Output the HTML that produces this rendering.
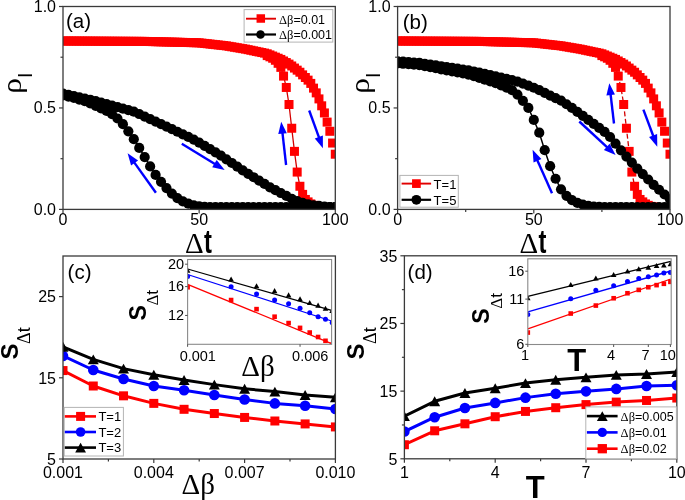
<!DOCTYPE html>
<html><head><meta charset="utf-8"><style>html,body{margin:0;padding:0;background:#fff;overflow:hidden;width:685px;height:500px}svg{display:block;will-change:transform;filter:blur(0.3px)}</style></head>
<body>
<svg width="685" height="500" viewBox="0 0 685 500">
<rect width="685" height="500" fill="#fff"/>
<defs></defs>
<clipPath id="ca"><rect x="63" y="6.5" width="272.3" height="202.9"/></clipPath>
<line x1="59" y1="209.4" x2="63" y2="209.4" stroke="#3a3a3a" stroke-width="1.2"/>
<line x1="59" y1="107.95" x2="63" y2="107.95" stroke="#3a3a3a" stroke-width="1.2"/>
<line x1="59" y1="6.5" x2="63" y2="6.5" stroke="#3a3a3a" stroke-width="1.2"/>
<line x1="60.5" y1="158.68" x2="63" y2="158.68" stroke="#3a3a3a" stroke-width="1.2"/>
<line x1="60.5" y1="57.22" x2="63" y2="57.22" stroke="#3a3a3a" stroke-width="1.2"/>
<line x1="63" y1="209.4" x2="63" y2="213.4" stroke="#3a3a3a" stroke-width="1.2"/>
<line x1="199.15" y1="209.4" x2="199.15" y2="213.4" stroke="#3a3a3a" stroke-width="1.2"/>
<line x1="335.3" y1="209.4" x2="335.3" y2="213.4" stroke="#3a3a3a" stroke-width="1.2"/>
<g clip-path="url(#ca)">
<polyline points="280.84,67.37 283.56,76.09 286.29,87.46 289.01,104.5 291.73,128.24 294.46,151.37 297.18,172.07 299.9,186.27 302.62,194.39 305.35,199.46 308.07,201.89 310.79,203.92 313.52,205.34 316.24,206.36 318.96,206.97 321.69,207.37 324.41,207.78 327.13,207.78 329.85,207.78 332.58,207.78 335.3,207.78" fill="none" stroke="#d40000" stroke-width="1.3" stroke-linejoin="round"/>
<rect x="58.5" y="36.49" width="9" height="9" fill="#ff0000"/>
<rect x="61.22" y="36.51" width="9" height="9" fill="#ff0000"/>
<rect x="63.95" y="36.52" width="9" height="9" fill="#ff0000"/>
<rect x="66.67" y="36.53" width="9" height="9" fill="#ff0000"/>
<rect x="69.39" y="36.55" width="9" height="9" fill="#ff0000"/>
<rect x="72.11" y="36.56" width="9" height="9" fill="#ff0000"/>
<rect x="74.84" y="36.57" width="9" height="9" fill="#ff0000"/>
<rect x="77.56" y="36.59" width="9" height="9" fill="#ff0000"/>
<rect x="80.28" y="36.6" width="9" height="9" fill="#ff0000"/>
<rect x="83.01" y="36.61" width="9" height="9" fill="#ff0000"/>
<rect x="85.73" y="36.63" width="9" height="9" fill="#ff0000"/>
<rect x="88.45" y="36.64" width="9" height="9" fill="#ff0000"/>
<rect x="91.18" y="36.66" width="9" height="9" fill="#ff0000"/>
<rect x="93.9" y="36.67" width="9" height="9" fill="#ff0000"/>
<rect x="96.62" y="36.68" width="9" height="9" fill="#ff0000"/>
<rect x="99.34" y="36.7" width="9" height="9" fill="#ff0000"/>
<rect x="102.07" y="36.71" width="9" height="9" fill="#ff0000"/>
<rect x="104.79" y="36.72" width="9" height="9" fill="#ff0000"/>
<rect x="107.51" y="36.74" width="9" height="9" fill="#ff0000"/>
<rect x="110.24" y="36.75" width="9" height="9" fill="#ff0000"/>
<rect x="112.96" y="36.76" width="9" height="9" fill="#ff0000"/>
<rect x="115.68" y="36.78" width="9" height="9" fill="#ff0000"/>
<rect x="118.41" y="36.79" width="9" height="9" fill="#ff0000"/>
<rect x="121.13" y="36.8" width="9" height="9" fill="#ff0000"/>
<rect x="123.85" y="36.82" width="9" height="9" fill="#ff0000"/>
<rect x="126.57" y="36.83" width="9" height="9" fill="#ff0000"/>
<rect x="129.3" y="36.84" width="9" height="9" fill="#ff0000"/>
<rect x="132.02" y="36.86" width="9" height="9" fill="#ff0000"/>
<rect x="134.74" y="36.87" width="9" height="9" fill="#ff0000"/>
<rect x="137.47" y="36.89" width="9" height="9" fill="#ff0000"/>
<rect x="140.19" y="36.9" width="9" height="9" fill="#ff0000"/>
<rect x="142.91" y="36.97" width="9" height="9" fill="#ff0000"/>
<rect x="145.64" y="37.04" width="9" height="9" fill="#ff0000"/>
<rect x="148.36" y="37.11" width="9" height="9" fill="#ff0000"/>
<rect x="151.08" y="37.18" width="9" height="9" fill="#ff0000"/>
<rect x="153.81" y="37.25" width="9" height="9" fill="#ff0000"/>
<rect x="156.53" y="37.32" width="9" height="9" fill="#ff0000"/>
<rect x="159.25" y="37.4" width="9" height="9" fill="#ff0000"/>
<rect x="161.97" y="37.47" width="9" height="9" fill="#ff0000"/>
<rect x="164.7" y="37.54" width="9" height="9" fill="#ff0000"/>
<rect x="167.42" y="37.61" width="9" height="9" fill="#ff0000"/>
<rect x="170.14" y="37.68" width="9" height="9" fill="#ff0000"/>
<rect x="172.87" y="37.75" width="9" height="9" fill="#ff0000"/>
<rect x="175.59" y="37.82" width="9" height="9" fill="#ff0000"/>
<rect x="178.31" y="37.89" width="9" height="9" fill="#ff0000"/>
<rect x="181.03" y="37.96" width="9" height="9" fill="#ff0000"/>
<rect x="183.76" y="38.04" width="9" height="9" fill="#ff0000"/>
<rect x="186.48" y="38.11" width="9" height="9" fill="#ff0000"/>
<rect x="189.2" y="38.18" width="9" height="9" fill="#ff0000"/>
<rect x="191.93" y="38.25" width="9" height="9" fill="#ff0000"/>
<rect x="194.65" y="38.32" width="9" height="9" fill="#ff0000"/>
<rect x="197.37" y="38.62" width="9" height="9" fill="#ff0000"/>
<rect x="200.1" y="38.93" width="9" height="9" fill="#ff0000"/>
<rect x="202.82" y="39.23" width="9" height="9" fill="#ff0000"/>
<rect x="205.54" y="39.54" width="9" height="9" fill="#ff0000"/>
<rect x="208.26" y="39.84" width="9" height="9" fill="#ff0000"/>
<rect x="210.99" y="40.15" width="9" height="9" fill="#ff0000"/>
<rect x="213.71" y="40.45" width="9" height="9" fill="#ff0000"/>
<rect x="216.43" y="40.75" width="9" height="9" fill="#ff0000"/>
<rect x="219.16" y="41.06" width="9" height="9" fill="#ff0000"/>
<rect x="221.88" y="41.36" width="9" height="9" fill="#ff0000"/>
<rect x="224.6" y="41.83" width="9" height="9" fill="#ff0000"/>
<rect x="227.33" y="42.29" width="9" height="9" fill="#ff0000"/>
<rect x="230.05" y="42.75" width="9" height="9" fill="#ff0000"/>
<rect x="232.77" y="43.22" width="9" height="9" fill="#ff0000"/>
<rect x="235.5" y="43.68" width="9" height="9" fill="#ff0000"/>
<rect x="238.22" y="44.15" width="9" height="9" fill="#ff0000"/>
<rect x="240.94" y="44.61" width="9" height="9" fill="#ff0000"/>
<rect x="243.66" y="45.18" width="9" height="9" fill="#ff0000"/>
<rect x="246.39" y="45.75" width="9" height="9" fill="#ff0000"/>
<rect x="249.11" y="46.33" width="9" height="9" fill="#ff0000"/>
<rect x="251.83" y="46.9" width="9" height="9" fill="#ff0000"/>
<rect x="254.56" y="47.47" width="9" height="9" fill="#ff0000"/>
<rect x="257.28" y="48.04" width="9" height="9" fill="#ff0000"/>
<rect x="260" y="48.61" width="9" height="9" fill="#ff0000"/>
<rect x="262.73" y="49.3" width="9" height="9" fill="#ff0000"/>
<rect x="265.45" y="50.41" width="9" height="9" fill="#ff0000"/>
<rect x="268.17" y="51.52" width="9" height="9" fill="#ff0000"/>
<rect x="270.89" y="52.64" width="9" height="9" fill="#ff0000"/>
<rect x="273.62" y="53.75" width="9" height="9" fill="#ff0000"/>
<rect x="276.34" y="54.91" width="9" height="9" fill="#ff0000"/>
<rect x="279.06" y="56.48" width="9" height="9" fill="#ff0000"/>
<rect x="281.79" y="58.04" width="9" height="9" fill="#ff0000"/>
<rect x="284.51" y="59.61" width="9" height="9" fill="#ff0000"/>
<rect x="287.23" y="61.48" width="9" height="9" fill="#ff0000"/>
<rect x="289.96" y="63.57" width="9" height="9" fill="#ff0000"/>
<rect x="292.68" y="65.65" width="9" height="9" fill="#ff0000"/>
<rect x="295.4" y="67.74" width="9" height="9" fill="#ff0000"/>
<rect x="298.12" y="70.37" width="9" height="9" fill="#ff0000"/>
<rect x="300.85" y="73" width="9" height="9" fill="#ff0000"/>
<rect x="303.57" y="75.64" width="9" height="9" fill="#ff0000"/>
<rect x="306.29" y="78.9" width="9" height="9" fill="#ff0000"/>
<rect x="309.02" y="83.63" width="9" height="9" fill="#ff0000"/>
<rect x="311.74" y="88.37" width="9" height="9" fill="#ff0000"/>
<rect x="314.46" y="94.4" width="9" height="9" fill="#ff0000"/>
<rect x="317.19" y="101.3" width="9" height="9" fill="#ff0000"/>
<rect x="319.91" y="108.43" width="9" height="9" fill="#ff0000"/>
<rect x="322.63" y="117.6" width="9" height="9" fill="#ff0000"/>
<rect x="325.35" y="126.78" width="9" height="9" fill="#ff0000"/>
<rect x="328.08" y="138.55" width="9" height="9" fill="#ff0000"/>
<rect x="330.8" y="149.71" width="9" height="9" fill="#ff0000"/>
<rect x="262.73" y="51.1" width="9" height="9" fill="#ff0000"/>
<rect x="265.45" y="52.32" width="9" height="9" fill="#ff0000"/>
<rect x="268.17" y="53.74" width="9" height="9" fill="#ff0000"/>
<rect x="270.89" y="55.77" width="9" height="9" fill="#ff0000"/>
<rect x="273.62" y="58.81" width="9" height="9" fill="#ff0000"/>
<rect x="276.34" y="62.87" width="9" height="9" fill="#ff0000"/>
<rect x="279.06" y="71.59" width="9" height="9" fill="#ff0000"/>
<rect x="281.79" y="82.96" width="9" height="9" fill="#ff0000"/>
<rect x="284.51" y="100" width="9" height="9" fill="#ff0000"/>
<rect x="287.23" y="123.74" width="9" height="9" fill="#ff0000"/>
<rect x="289.96" y="146.87" width="9" height="9" fill="#ff0000"/>
<rect x="292.68" y="167.57" width="9" height="9" fill="#ff0000"/>
<rect x="295.4" y="181.77" width="9" height="9" fill="#ff0000"/>
<rect x="298.12" y="189.89" width="9" height="9" fill="#ff0000"/>
<rect x="300.85" y="194.96" width="9" height="9" fill="#ff0000"/>
<rect x="303.57" y="197.39" width="9" height="9" fill="#ff0000"/>
<rect x="306.29" y="199.42" width="9" height="9" fill="#ff0000"/>
<rect x="309.02" y="200.84" width="9" height="9" fill="#ff0000"/>
<rect x="311.74" y="201.86" width="9" height="9" fill="#ff0000"/>
<rect x="314.46" y="202.47" width="9" height="9" fill="#ff0000"/>
<rect x="317.19" y="202.87" width="9" height="9" fill="#ff0000"/>
<rect x="319.91" y="203.28" width="9" height="9" fill="#ff0000"/>
<rect x="322.63" y="203.28" width="9" height="9" fill="#ff0000"/>
<rect x="325.35" y="203.28" width="9" height="9" fill="#ff0000"/>
<rect x="328.08" y="203.28" width="9" height="9" fill="#ff0000"/>
<rect x="330.8" y="203.28" width="9" height="9" fill="#ff0000"/>
<polyline points="63,95.37 68.45,96.59 73.89,97.8 79.34,99.53 84.78,101.25 90.23,103.5 95.68,105.78 101.12,108.38 106.57,110.99 112.01,114.04 117.46,118.5 122.91,124.18 128.35,131.28 133.8,139.2 139.24,147.92 144.69,157.05 150.14,166.39 155.58,174.91 161.03,181.81 166.47,188.1 171.92,193.57 177.37,198.04 182.81,201.28 188.26,203.72 193.7,205.34 199.15,206.36 204.6,206.97 210.04,207.17 215.49,207.17 220.93,207.17 226.38,207.17 231.83,207.17 237.27,207.17 242.72,207.17 248.16,207.17 253.61,207.17 259.06,207.17 264.5,207.17 269.95,207.17 275.39,207.17 280.84,207.17 286.29,207.17 291.73,207.17 297.18,207.17 302.62,207.17 308.07,207.17 313.52,207.17 318.96,207.17 324.41,207.17 329.85,207.17 335.3,207.17" fill="none" stroke="#000000" stroke-width="1.5" stroke-linejoin="round"/>
<circle cx="63" cy="93.54" r="5.1" fill="#000000"/>
<circle cx="68.45" cy="94.78" r="5.1" fill="#000000"/>
<circle cx="73.89" cy="96.02" r="5.1" fill="#000000"/>
<circle cx="79.34" cy="97.26" r="5.1" fill="#000000"/>
<circle cx="84.78" cy="98.5" r="5.1" fill="#000000"/>
<circle cx="90.23" cy="99.73" r="5.1" fill="#000000"/>
<circle cx="95.68" cy="101" r="5.1" fill="#000000"/>
<circle cx="101.12" cy="102.53" r="5.1" fill="#000000"/>
<circle cx="106.57" cy="104.06" r="5.1" fill="#000000"/>
<circle cx="112.01" cy="105.59" r="5.1" fill="#000000"/>
<circle cx="117.46" cy="107.12" r="5.1" fill="#000000"/>
<circle cx="122.91" cy="108.64" r="5.1" fill="#000000"/>
<circle cx="128.35" cy="110.17" r="5.1" fill="#000000"/>
<circle cx="133.8" cy="111.7" r="5.1" fill="#000000"/>
<circle cx="139.24" cy="114.02" r="5.1" fill="#000000"/>
<circle cx="144.69" cy="116.54" r="5.1" fill="#000000"/>
<circle cx="150.14" cy="119.05" r="5.1" fill="#000000"/>
<circle cx="155.58" cy="121.57" r="5.1" fill="#000000"/>
<circle cx="161.03" cy="124.09" r="5.1" fill="#000000"/>
<circle cx="166.47" cy="126.6" r="5.1" fill="#000000"/>
<circle cx="171.92" cy="129.15" r="5.1" fill="#000000"/>
<circle cx="177.37" cy="131.75" r="5.1" fill="#000000"/>
<circle cx="182.81" cy="134.36" r="5.1" fill="#000000"/>
<circle cx="188.26" cy="136.96" r="5.1" fill="#000000"/>
<circle cx="193.7" cy="139.56" r="5.1" fill="#000000"/>
<circle cx="199.15" cy="142.63" r="5.1" fill="#000000"/>
<circle cx="204.6" cy="145.85" r="5.1" fill="#000000"/>
<circle cx="210.04" cy="149.07" r="5.1" fill="#000000"/>
<circle cx="215.49" cy="152.29" r="5.1" fill="#000000"/>
<circle cx="220.93" cy="155.58" r="5.1" fill="#000000"/>
<circle cx="226.38" cy="159.28" r="5.1" fill="#000000"/>
<circle cx="231.83" cy="162.98" r="5.1" fill="#000000"/>
<circle cx="237.27" cy="166.68" r="5.1" fill="#000000"/>
<circle cx="242.72" cy="170.38" r="5.1" fill="#000000"/>
<circle cx="248.16" cy="173.87" r="5.1" fill="#000000"/>
<circle cx="253.61" cy="177.23" r="5.1" fill="#000000"/>
<circle cx="259.06" cy="180.58" r="5.1" fill="#000000"/>
<circle cx="264.5" cy="183.93" r="5.1" fill="#000000"/>
<circle cx="269.95" cy="187.28" r="5.1" fill="#000000"/>
<circle cx="275.39" cy="190.15" r="5.1" fill="#000000"/>
<circle cx="280.84" cy="193.02" r="5.1" fill="#000000"/>
<circle cx="286.29" cy="195.89" r="5.1" fill="#000000"/>
<circle cx="291.73" cy="198.75" r="5.1" fill="#000000"/>
<circle cx="297.18" cy="201.12" r="5.1" fill="#000000"/>
<circle cx="302.62" cy="202.74" r="5.1" fill="#000000"/>
<circle cx="308.07" cy="204.37" r="5.1" fill="#000000"/>
<circle cx="313.52" cy="205.33" r="5.1" fill="#000000"/>
<circle cx="318.96" cy="205.95" r="5.1" fill="#000000"/>
<circle cx="324.41" cy="206.56" r="5.1" fill="#000000"/>
<circle cx="329.85" cy="207.17" r="5.1" fill="#000000"/>
<circle cx="335.3" cy="207.17" r="5.1" fill="#000000"/>
<circle cx="63" cy="95.37" r="5.1" fill="#000000"/>
<circle cx="68.45" cy="96.59" r="5.1" fill="#000000"/>
<circle cx="73.89" cy="97.8" r="5.1" fill="#000000"/>
<circle cx="79.34" cy="99.53" r="5.1" fill="#000000"/>
<circle cx="84.78" cy="101.25" r="5.1" fill="#000000"/>
<circle cx="90.23" cy="103.5" r="5.1" fill="#000000"/>
<circle cx="95.68" cy="105.78" r="5.1" fill="#000000"/>
<circle cx="101.12" cy="108.38" r="5.1" fill="#000000"/>
<circle cx="106.57" cy="110.99" r="5.1" fill="#000000"/>
<circle cx="112.01" cy="114.04" r="5.1" fill="#000000"/>
<circle cx="117.46" cy="118.5" r="5.1" fill="#000000"/>
<circle cx="122.91" cy="124.18" r="5.1" fill="#000000"/>
<circle cx="128.35" cy="131.28" r="5.1" fill="#000000"/>
<circle cx="133.8" cy="139.2" r="5.1" fill="#000000"/>
<circle cx="139.24" cy="147.92" r="5.1" fill="#000000"/>
<circle cx="144.69" cy="157.05" r="5.1" fill="#000000"/>
<circle cx="150.14" cy="166.39" r="5.1" fill="#000000"/>
<circle cx="155.58" cy="174.91" r="5.1" fill="#000000"/>
<circle cx="161.03" cy="181.81" r="5.1" fill="#000000"/>
<circle cx="166.47" cy="188.1" r="5.1" fill="#000000"/>
<circle cx="171.92" cy="193.57" r="5.1" fill="#000000"/>
<circle cx="177.37" cy="198.04" r="5.1" fill="#000000"/>
<circle cx="182.81" cy="201.28" r="5.1" fill="#000000"/>
<circle cx="188.26" cy="203.72" r="5.1" fill="#000000"/>
<circle cx="193.7" cy="205.34" r="5.1" fill="#000000"/>
<circle cx="199.15" cy="206.36" r="5.1" fill="#000000"/>
<circle cx="204.6" cy="206.97" r="5.1" fill="#000000"/>
<circle cx="210.04" cy="207.17" r="5.1" fill="#000000"/>
<circle cx="215.49" cy="207.17" r="5.1" fill="#000000"/>
<circle cx="220.93" cy="207.17" r="5.1" fill="#000000"/>
<circle cx="226.38" cy="207.17" r="5.1" fill="#000000"/>
<circle cx="231.83" cy="207.17" r="5.1" fill="#000000"/>
<circle cx="237.27" cy="207.17" r="5.1" fill="#000000"/>
<circle cx="242.72" cy="207.17" r="5.1" fill="#000000"/>
<circle cx="248.16" cy="207.17" r="5.1" fill="#000000"/>
<circle cx="253.61" cy="207.17" r="5.1" fill="#000000"/>
<circle cx="259.06" cy="207.17" r="5.1" fill="#000000"/>
<circle cx="264.5" cy="207.17" r="5.1" fill="#000000"/>
<circle cx="269.95" cy="207.17" r="5.1" fill="#000000"/>
<circle cx="275.39" cy="207.17" r="5.1" fill="#000000"/>
<circle cx="280.84" cy="207.17" r="5.1" fill="#000000"/>
<circle cx="286.29" cy="207.17" r="5.1" fill="#000000"/>
<circle cx="291.73" cy="207.17" r="5.1" fill="#000000"/>
<circle cx="297.18" cy="207.17" r="5.1" fill="#000000"/>
<circle cx="302.62" cy="207.17" r="5.1" fill="#000000"/>
<circle cx="308.07" cy="207.17" r="5.1" fill="#000000"/>
<circle cx="313.52" cy="207.17" r="5.1" fill="#000000"/>
<circle cx="318.96" cy="207.17" r="5.1" fill="#000000"/>
<circle cx="324.41" cy="207.17" r="5.1" fill="#000000"/>
<circle cx="329.85" cy="207.17" r="5.1" fill="#000000"/>
<circle cx="335.3" cy="207.17" r="5.1" fill="#000000"/>
</g>
<rect x="63" y="6.5" width="272.3" height="202.9" fill="none" stroke="#3a3a3a" stroke-width="1.3"/>
<clipPath id="cb"><rect x="397.6" y="6.5" width="272.4" height="202.9"/></clipPath>
<line x1="465.7" y1="209.4" x2="465.7" y2="211.9" stroke="#3a3a3a" stroke-width="1.2"/>
<line x1="601.9" y1="209.4" x2="601.9" y2="211.9" stroke="#3a3a3a" stroke-width="1.2"/>
<line x1="393.6" y1="209.4" x2="397.6" y2="209.4" stroke="#3a3a3a" stroke-width="1.2"/>
<line x1="393.6" y1="107.95" x2="397.6" y2="107.95" stroke="#3a3a3a" stroke-width="1.2"/>
<line x1="393.6" y1="6.5" x2="397.6" y2="6.5" stroke="#3a3a3a" stroke-width="1.2"/>
<line x1="395.1" y1="158.68" x2="397.6" y2="158.68" stroke="#3a3a3a" stroke-width="1.2"/>
<line x1="395.1" y1="57.22" x2="397.6" y2="57.22" stroke="#3a3a3a" stroke-width="1.2"/>
<line x1="397.6" y1="209.4" x2="397.6" y2="213.4" stroke="#3a3a3a" stroke-width="1.2"/>
<line x1="533.8" y1="209.4" x2="533.8" y2="213.4" stroke="#3a3a3a" stroke-width="1.2"/>
<line x1="670" y1="209.4" x2="670" y2="213.4" stroke="#3a3a3a" stroke-width="1.2"/>
<g clip-path="url(#cb)">
<polyline points="615.52,67.37 618.24,76.09 620.97,87.46 623.69,104.5 626.42,128.24 629.14,151.37 631.86,172.07 634.59,186.27 637.31,194.39 640.04,199.46 642.76,201.89 645.48,203.92 648.21,205.34 650.93,206.36 653.66,206.97 656.38,207.37 659.1,207.78 661.83,207.78 664.55,207.78 667.28,207.78 670,207.78" fill="none" stroke="#d40000" stroke-width="1.3" stroke-linejoin="round" stroke-dasharray="5,2.5"/>
<rect x="393.1" y="36.49" width="9" height="9" fill="#ff0000"/>
<rect x="395.82" y="36.51" width="9" height="9" fill="#ff0000"/>
<rect x="398.55" y="36.52" width="9" height="9" fill="#ff0000"/>
<rect x="401.27" y="36.53" width="9" height="9" fill="#ff0000"/>
<rect x="404" y="36.55" width="9" height="9" fill="#ff0000"/>
<rect x="406.72" y="36.56" width="9" height="9" fill="#ff0000"/>
<rect x="409.44" y="36.57" width="9" height="9" fill="#ff0000"/>
<rect x="412.17" y="36.59" width="9" height="9" fill="#ff0000"/>
<rect x="414.89" y="36.6" width="9" height="9" fill="#ff0000"/>
<rect x="417.62" y="36.61" width="9" height="9" fill="#ff0000"/>
<rect x="420.34" y="36.63" width="9" height="9" fill="#ff0000"/>
<rect x="423.06" y="36.64" width="9" height="9" fill="#ff0000"/>
<rect x="425.79" y="36.66" width="9" height="9" fill="#ff0000"/>
<rect x="428.51" y="36.67" width="9" height="9" fill="#ff0000"/>
<rect x="431.24" y="36.68" width="9" height="9" fill="#ff0000"/>
<rect x="433.96" y="36.7" width="9" height="9" fill="#ff0000"/>
<rect x="436.68" y="36.71" width="9" height="9" fill="#ff0000"/>
<rect x="439.41" y="36.72" width="9" height="9" fill="#ff0000"/>
<rect x="442.13" y="36.74" width="9" height="9" fill="#ff0000"/>
<rect x="444.86" y="36.75" width="9" height="9" fill="#ff0000"/>
<rect x="447.58" y="36.76" width="9" height="9" fill="#ff0000"/>
<rect x="450.3" y="36.78" width="9" height="9" fill="#ff0000"/>
<rect x="453.03" y="36.79" width="9" height="9" fill="#ff0000"/>
<rect x="455.75" y="36.8" width="9" height="9" fill="#ff0000"/>
<rect x="458.48" y="36.82" width="9" height="9" fill="#ff0000"/>
<rect x="461.2" y="36.83" width="9" height="9" fill="#ff0000"/>
<rect x="463.92" y="36.84" width="9" height="9" fill="#ff0000"/>
<rect x="466.65" y="36.86" width="9" height="9" fill="#ff0000"/>
<rect x="469.37" y="36.87" width="9" height="9" fill="#ff0000"/>
<rect x="472.1" y="36.89" width="9" height="9" fill="#ff0000"/>
<rect x="474.82" y="36.9" width="9" height="9" fill="#ff0000"/>
<rect x="477.54" y="36.97" width="9" height="9" fill="#ff0000"/>
<rect x="480.27" y="37.04" width="9" height="9" fill="#ff0000"/>
<rect x="482.99" y="37.11" width="9" height="9" fill="#ff0000"/>
<rect x="485.72" y="37.18" width="9" height="9" fill="#ff0000"/>
<rect x="488.44" y="37.25" width="9" height="9" fill="#ff0000"/>
<rect x="491.16" y="37.32" width="9" height="9" fill="#ff0000"/>
<rect x="493.89" y="37.4" width="9" height="9" fill="#ff0000"/>
<rect x="496.61" y="37.47" width="9" height="9" fill="#ff0000"/>
<rect x="499.34" y="37.54" width="9" height="9" fill="#ff0000"/>
<rect x="502.06" y="37.61" width="9" height="9" fill="#ff0000"/>
<rect x="504.78" y="37.68" width="9" height="9" fill="#ff0000"/>
<rect x="507.51" y="37.75" width="9" height="9" fill="#ff0000"/>
<rect x="510.23" y="37.82" width="9" height="9" fill="#ff0000"/>
<rect x="512.96" y="37.89" width="9" height="9" fill="#ff0000"/>
<rect x="515.68" y="37.96" width="9" height="9" fill="#ff0000"/>
<rect x="518.4" y="38.04" width="9" height="9" fill="#ff0000"/>
<rect x="521.13" y="38.11" width="9" height="9" fill="#ff0000"/>
<rect x="523.85" y="38.18" width="9" height="9" fill="#ff0000"/>
<rect x="526.58" y="38.25" width="9" height="9" fill="#ff0000"/>
<rect x="529.3" y="38.32" width="9" height="9" fill="#ff0000"/>
<rect x="532.02" y="38.62" width="9" height="9" fill="#ff0000"/>
<rect x="534.75" y="38.93" width="9" height="9" fill="#ff0000"/>
<rect x="537.47" y="39.23" width="9" height="9" fill="#ff0000"/>
<rect x="540.2" y="39.54" width="9" height="9" fill="#ff0000"/>
<rect x="542.92" y="39.84" width="9" height="9" fill="#ff0000"/>
<rect x="545.64" y="40.15" width="9" height="9" fill="#ff0000"/>
<rect x="548.37" y="40.45" width="9" height="9" fill="#ff0000"/>
<rect x="551.09" y="40.75" width="9" height="9" fill="#ff0000"/>
<rect x="553.82" y="41.06" width="9" height="9" fill="#ff0000"/>
<rect x="556.54" y="41.36" width="9" height="9" fill="#ff0000"/>
<rect x="559.26" y="41.83" width="9" height="9" fill="#ff0000"/>
<rect x="561.99" y="42.29" width="9" height="9" fill="#ff0000"/>
<rect x="564.71" y="42.75" width="9" height="9" fill="#ff0000"/>
<rect x="567.44" y="43.22" width="9" height="9" fill="#ff0000"/>
<rect x="570.16" y="43.68" width="9" height="9" fill="#ff0000"/>
<rect x="572.88" y="44.15" width="9" height="9" fill="#ff0000"/>
<rect x="575.61" y="44.61" width="9" height="9" fill="#ff0000"/>
<rect x="578.33" y="45.18" width="9" height="9" fill="#ff0000"/>
<rect x="581.06" y="45.75" width="9" height="9" fill="#ff0000"/>
<rect x="583.78" y="46.33" width="9" height="9" fill="#ff0000"/>
<rect x="586.5" y="46.9" width="9" height="9" fill="#ff0000"/>
<rect x="589.23" y="47.47" width="9" height="9" fill="#ff0000"/>
<rect x="591.95" y="48.04" width="9" height="9" fill="#ff0000"/>
<rect x="594.68" y="48.61" width="9" height="9" fill="#ff0000"/>
<rect x="597.4" y="49.3" width="9" height="9" fill="#ff0000"/>
<rect x="600.12" y="50.41" width="9" height="9" fill="#ff0000"/>
<rect x="602.85" y="51.52" width="9" height="9" fill="#ff0000"/>
<rect x="605.57" y="52.64" width="9" height="9" fill="#ff0000"/>
<rect x="608.3" y="53.75" width="9" height="9" fill="#ff0000"/>
<rect x="611.02" y="54.91" width="9" height="9" fill="#ff0000"/>
<rect x="613.74" y="56.48" width="9" height="9" fill="#ff0000"/>
<rect x="616.47" y="58.04" width="9" height="9" fill="#ff0000"/>
<rect x="619.19" y="59.61" width="9" height="9" fill="#ff0000"/>
<rect x="621.92" y="61.48" width="9" height="9" fill="#ff0000"/>
<rect x="624.64" y="63.57" width="9" height="9" fill="#ff0000"/>
<rect x="627.36" y="65.65" width="9" height="9" fill="#ff0000"/>
<rect x="630.09" y="67.74" width="9" height="9" fill="#ff0000"/>
<rect x="632.81" y="70.37" width="9" height="9" fill="#ff0000"/>
<rect x="635.54" y="73" width="9" height="9" fill="#ff0000"/>
<rect x="638.26" y="75.64" width="9" height="9" fill="#ff0000"/>
<rect x="640.98" y="78.9" width="9" height="9" fill="#ff0000"/>
<rect x="643.71" y="83.63" width="9" height="9" fill="#ff0000"/>
<rect x="646.43" y="88.37" width="9" height="9" fill="#ff0000"/>
<rect x="649.16" y="94.4" width="9" height="9" fill="#ff0000"/>
<rect x="651.88" y="101.3" width="9" height="9" fill="#ff0000"/>
<rect x="654.6" y="108.43" width="9" height="9" fill="#ff0000"/>
<rect x="657.33" y="117.6" width="9" height="9" fill="#ff0000"/>
<rect x="660.05" y="126.78" width="9" height="9" fill="#ff0000"/>
<rect x="662.78" y="138.55" width="9" height="9" fill="#ff0000"/>
<rect x="665.5" y="149.71" width="9" height="9" fill="#ff0000"/>
<rect x="597.4" y="51.1" width="9" height="9" fill="#ff0000"/>
<rect x="600.12" y="52.32" width="9" height="9" fill="#ff0000"/>
<rect x="602.85" y="53.74" width="9" height="9" fill="#ff0000"/>
<rect x="605.57" y="55.77" width="9" height="9" fill="#ff0000"/>
<rect x="608.3" y="58.81" width="9" height="9" fill="#ff0000"/>
<rect x="611.02" y="62.87" width="9" height="9" fill="#ff0000"/>
<rect x="613.74" y="71.59" width="9" height="9" fill="#ff0000"/>
<rect x="616.47" y="82.96" width="9" height="9" fill="#ff0000"/>
<rect x="619.19" y="100" width="9" height="9" fill="#ff0000"/>
<rect x="621.92" y="123.74" width="9" height="9" fill="#ff0000"/>
<rect x="624.64" y="146.87" width="9" height="9" fill="#ff0000"/>
<rect x="627.36" y="167.57" width="9" height="9" fill="#ff0000"/>
<rect x="630.09" y="181.77" width="9" height="9" fill="#ff0000"/>
<rect x="632.81" y="189.89" width="9" height="9" fill="#ff0000"/>
<rect x="635.54" y="194.96" width="9" height="9" fill="#ff0000"/>
<rect x="638.26" y="197.39" width="9" height="9" fill="#ff0000"/>
<rect x="640.98" y="199.42" width="9" height="9" fill="#ff0000"/>
<rect x="643.71" y="200.84" width="9" height="9" fill="#ff0000"/>
<rect x="646.43" y="201.86" width="9" height="9" fill="#ff0000"/>
<rect x="649.16" y="202.47" width="9" height="9" fill="#ff0000"/>
<rect x="651.88" y="202.87" width="9" height="9" fill="#ff0000"/>
<rect x="654.6" y="203.28" width="9" height="9" fill="#ff0000"/>
<rect x="657.33" y="203.28" width="9" height="9" fill="#ff0000"/>
<rect x="660.05" y="203.28" width="9" height="9" fill="#ff0000"/>
<rect x="662.78" y="203.28" width="9" height="9" fill="#ff0000"/>
<rect x="665.5" y="203.28" width="9" height="9" fill="#ff0000"/>
<polyline points="397.6,63.31 403.05,63.77 408.5,64.23 413.94,64.69 419.39,65.15 424.84,66.15 430.29,67.2 435.74,68.25 441.18,69.3 446.63,70.35 452.08,71.41 457.53,72.46 462.98,73.51 468.42,74.56 473.87,76.11 479.32,77.88 484.77,79.64 490.22,81.41 495.66,83.22 501.11,85.44 506.56,87.66 512.01,90.09 517.46,94.56 522.9,100.85 528.35,107.95 533.8,119.92 539.25,132.7 544.7,150.15 550.14,166.18 555.59,178.76 561.04,189.31 566.49,195.81 571.94,200.07 577.38,202.91 582.83,204.53 588.28,205.75 593.73,206.56 599.18,206.97 604.62,207.17 610.07,207.17 615.52,207.17 620.97,207.17 626.42,207.17 631.86,207.17 637.31,207.17 642.76,207.17 648.21,207.17 653.66,207.17 659.1,207.17 664.55,207.17 670,207.17" fill="none" stroke="#000000" stroke-width="1.5" stroke-linejoin="round"/>
<circle cx="397.6" cy="61.28" r="5.1" fill="#000000"/>
<circle cx="403.05" cy="61.7" r="5.1" fill="#000000"/>
<circle cx="408.5" cy="62.12" r="5.1" fill="#000000"/>
<circle cx="413.94" cy="62.54" r="5.1" fill="#000000"/>
<circle cx="419.39" cy="62.97" r="5.1" fill="#000000"/>
<circle cx="424.84" cy="63.75" r="5.1" fill="#000000"/>
<circle cx="430.29" cy="64.58" r="5.1" fill="#000000"/>
<circle cx="435.74" cy="65.41" r="5.1" fill="#000000"/>
<circle cx="441.18" cy="66.23" r="5.1" fill="#000000"/>
<circle cx="446.63" cy="67.06" r="5.1" fill="#000000"/>
<circle cx="452.08" cy="67.89" r="5.1" fill="#000000"/>
<circle cx="457.53" cy="68.71" r="5.1" fill="#000000"/>
<circle cx="462.98" cy="69.54" r="5.1" fill="#000000"/>
<circle cx="468.42" cy="70.37" r="5.1" fill="#000000"/>
<circle cx="473.87" cy="71.48" r="5.1" fill="#000000"/>
<circle cx="479.32" cy="72.72" r="5.1" fill="#000000"/>
<circle cx="484.77" cy="73.95" r="5.1" fill="#000000"/>
<circle cx="490.22" cy="75.19" r="5.1" fill="#000000"/>
<circle cx="495.66" cy="76.42" r="5.1" fill="#000000"/>
<circle cx="501.11" cy="77.64" r="5.1" fill="#000000"/>
<circle cx="506.56" cy="78.87" r="5.1" fill="#000000"/>
<circle cx="512.01" cy="80.09" r="5.1" fill="#000000"/>
<circle cx="517.46" cy="81.64" r="5.1" fill="#000000"/>
<circle cx="522.9" cy="83.6" r="5.1" fill="#000000"/>
<circle cx="528.35" cy="85.56" r="5.1" fill="#000000"/>
<circle cx="533.8" cy="87.76" r="5.1" fill="#000000"/>
<circle cx="539.25" cy="90.14" r="5.1" fill="#000000"/>
<circle cx="544.7" cy="92.85" r="5.1" fill="#000000"/>
<circle cx="550.14" cy="95.62" r="5.1" fill="#000000"/>
<circle cx="555.59" cy="98.04" r="5.1" fill="#000000"/>
<circle cx="561.04" cy="100.57" r="5.1" fill="#000000"/>
<circle cx="566.49" cy="104.26" r="5.1" fill="#000000"/>
<circle cx="571.94" cy="107.95" r="5.1" fill="#000000"/>
<circle cx="577.38" cy="111.91" r="5.1" fill="#000000"/>
<circle cx="582.83" cy="115.86" r="5.1" fill="#000000"/>
<circle cx="588.28" cy="119.88" r="5.1" fill="#000000"/>
<circle cx="593.73" cy="123.89" r="5.1" fill="#000000"/>
<circle cx="599.18" cy="127.9" r="5.1" fill="#000000"/>
<circle cx="604.62" cy="131.92" r="5.1" fill="#000000"/>
<circle cx="610.07" cy="136.99" r="5.1" fill="#000000"/>
<circle cx="615.52" cy="143.66" r="5.1" fill="#000000"/>
<circle cx="620.97" cy="150.33" r="5.1" fill="#000000"/>
<circle cx="626.42" cy="156.58" r="5.1" fill="#000000"/>
<circle cx="631.86" cy="162.56" r="5.1" fill="#000000"/>
<circle cx="637.31" cy="168.54" r="5.1" fill="#000000"/>
<circle cx="642.76" cy="174.1" r="5.1" fill="#000000"/>
<circle cx="648.21" cy="179.51" r="5.1" fill="#000000"/>
<circle cx="653.66" cy="184.92" r="5.1" fill="#000000"/>
<circle cx="659.1" cy="189.74" r="5.1" fill="#000000"/>
<circle cx="664.55" cy="194.5" r="5.1" fill="#000000"/>
<circle cx="670" cy="199.25" r="5.1" fill="#000000"/>
<circle cx="397.6" cy="63.31" r="5.1" fill="#000000"/>
<circle cx="403.05" cy="63.77" r="5.1" fill="#000000"/>
<circle cx="408.5" cy="64.23" r="5.1" fill="#000000"/>
<circle cx="413.94" cy="64.69" r="5.1" fill="#000000"/>
<circle cx="419.39" cy="65.15" r="5.1" fill="#000000"/>
<circle cx="424.84" cy="66.15" r="5.1" fill="#000000"/>
<circle cx="430.29" cy="67.2" r="5.1" fill="#000000"/>
<circle cx="435.74" cy="68.25" r="5.1" fill="#000000"/>
<circle cx="441.18" cy="69.3" r="5.1" fill="#000000"/>
<circle cx="446.63" cy="70.35" r="5.1" fill="#000000"/>
<circle cx="452.08" cy="71.41" r="5.1" fill="#000000"/>
<circle cx="457.53" cy="72.46" r="5.1" fill="#000000"/>
<circle cx="462.98" cy="73.51" r="5.1" fill="#000000"/>
<circle cx="468.42" cy="74.56" r="5.1" fill="#000000"/>
<circle cx="473.87" cy="76.11" r="5.1" fill="#000000"/>
<circle cx="479.32" cy="77.88" r="5.1" fill="#000000"/>
<circle cx="484.77" cy="79.64" r="5.1" fill="#000000"/>
<circle cx="490.22" cy="81.41" r="5.1" fill="#000000"/>
<circle cx="495.66" cy="83.22" r="5.1" fill="#000000"/>
<circle cx="501.11" cy="85.44" r="5.1" fill="#000000"/>
<circle cx="506.56" cy="87.66" r="5.1" fill="#000000"/>
<circle cx="512.01" cy="90.09" r="5.1" fill="#000000"/>
<circle cx="517.46" cy="94.56" r="5.1" fill="#000000"/>
<circle cx="522.9" cy="100.85" r="5.1" fill="#000000"/>
<circle cx="528.35" cy="107.95" r="5.1" fill="#000000"/>
<circle cx="533.8" cy="119.92" r="5.1" fill="#000000"/>
<circle cx="539.25" cy="132.7" r="5.1" fill="#000000"/>
<circle cx="544.7" cy="150.15" r="5.1" fill="#000000"/>
<circle cx="550.14" cy="166.18" r="5.1" fill="#000000"/>
<circle cx="555.59" cy="178.76" r="5.1" fill="#000000"/>
<circle cx="561.04" cy="189.31" r="5.1" fill="#000000"/>
<circle cx="566.49" cy="195.81" r="5.1" fill="#000000"/>
<circle cx="571.94" cy="200.07" r="5.1" fill="#000000"/>
<circle cx="577.38" cy="202.91" r="5.1" fill="#000000"/>
<circle cx="582.83" cy="204.53" r="5.1" fill="#000000"/>
<circle cx="588.28" cy="205.75" r="5.1" fill="#000000"/>
<circle cx="593.73" cy="206.56" r="5.1" fill="#000000"/>
<circle cx="599.18" cy="206.97" r="5.1" fill="#000000"/>
<circle cx="604.62" cy="207.17" r="5.1" fill="#000000"/>
<circle cx="610.07" cy="207.17" r="5.1" fill="#000000"/>
<circle cx="615.52" cy="207.17" r="5.1" fill="#000000"/>
<circle cx="620.97" cy="207.17" r="5.1" fill="#000000"/>
<circle cx="626.42" cy="207.17" r="5.1" fill="#000000"/>
<circle cx="631.86" cy="207.17" r="5.1" fill="#000000"/>
<circle cx="637.31" cy="207.17" r="5.1" fill="#000000"/>
<circle cx="642.76" cy="207.17" r="5.1" fill="#000000"/>
<circle cx="648.21" cy="207.17" r="5.1" fill="#000000"/>
<circle cx="653.66" cy="207.17" r="5.1" fill="#000000"/>
<circle cx="659.1" cy="207.17" r="5.1" fill="#000000"/>
<circle cx="664.55" cy="207.17" r="5.1" fill="#000000"/>
<circle cx="670" cy="207.17" r="5.1" fill="#000000"/>
</g>
<rect x="397.6" y="6.5" width="272.4" height="202.9" fill="none" stroke="#3a3a3a" stroke-width="1.3"/>
<line x1="155.9" y1="192.7" x2="134.01" y2="162.14" stroke="#0000ff" stroke-width="2.4"/>
<path d="M127.6 153.2L138.08 160.45L131.09 165.46Z" fill="#0000ff"/>
<line x1="181.8" y1="143.8" x2="215.3" y2="164.18" stroke="#0000ff" stroke-width="2.4"/>
<path d="M224.7 169.9L212.21 167.34L216.68 159.99Z" fill="#0000ff"/>
<line x1="286.1" y1="165" x2="282.44" y2="132.63" stroke="#0000ff" stroke-width="2.4"/>
<path d="M281.2 121.7L286.82 133.14L278.28 134.11Z" fill="#0000ff"/>
<line x1="309.2" y1="110.5" x2="319.15" y2="137.96" stroke="#0000ff" stroke-width="2.4"/>
<path d="M322.9 148.3L314.77 138.48L322.85 135.55Z" fill="#0000ff"/>
<line x1="552" y1="193.2" x2="537.08" y2="159.75" stroke="#0000ff" stroke-width="2.4"/>
<path d="M532.6 149.7L541.41 158.91L533.56 162.41Z" fill="#0000ff"/>
<line x1="579.3" y1="121.5" x2="607.52" y2="147.54" stroke="#0000ff" stroke-width="2.4"/>
<path d="M615.6 155L603.87 150.02L609.7 143.7Z" fill="#0000ff"/>
<line x1="614" y1="123.5" x2="610.57" y2="94.13" stroke="#0000ff" stroke-width="2.4"/>
<path d="M609.3 83.2L614.96 94.62L606.42 95.62Z" fill="#0000ff"/>
<line x1="643.4" y1="109.6" x2="653.45" y2="136.5" stroke="#0000ff" stroke-width="2.4"/>
<path d="M657.3 146.8L649.07 137.06L657.13 134.05Z" fill="#0000ff"/>
<text x="56" y="214.6" font-size="16" text-anchor="end" font-family="'Liberation Sans', sans-serif" font-weight="normal" fill="#000" >0.0</text>
<text x="56" y="113.15" font-size="16" text-anchor="end" font-family="'Liberation Sans', sans-serif" font-weight="normal" fill="#000" >0.5</text>
<text x="56" y="11.7" font-size="16" text-anchor="end" font-family="'Liberation Sans', sans-serif" font-weight="normal" fill="#000" >1.0</text>
<text x="63" y="225.4" font-size="16" text-anchor="middle" font-family="'Liberation Sans', sans-serif" font-weight="normal" fill="#000" >0</text>
<text x="199.15" y="225.4" font-size="16" text-anchor="middle" font-family="'Liberation Sans', sans-serif" font-weight="normal" fill="#000" >50</text>
<text x="335.3" y="225.4" font-size="16" text-anchor="middle" font-family="'Liberation Sans', sans-serif" font-weight="normal" fill="#000" >100</text>
<text x="66" y="28" font-size="20.5" text-anchor="start" font-family="'Liberation Sans', sans-serif" font-weight="normal" fill="#000" >(a)</text>
<text x="185" y="252.7" font-size="29" fill="#000" font-family="'Liberation Serif', serif">&#916;</text>
<text x="0" y="0" transform="translate(204,252.7) scale(0.72,1)" font-size="33" font-weight="bold" fill="#000" font-family="'Liberation Sans', sans-serif">t</text>
<g transform="translate(20.5,93.7) rotate(-90)"><text x="0" y="0" transform="scale(1.17,1)" font-size="27" fill="#000" font-family="'Liberation Serif', serif">&#961;</text><text x="15.6" y="11.5" font-size="19.5" fill="#000" font-family="'Liberation Sans', sans-serif">I</text></g>
<text x="390.6" y="214.6" font-size="16" text-anchor="end" font-family="'Liberation Sans', sans-serif" font-weight="normal" fill="#000" >0.0</text>
<text x="390.6" y="113.15" font-size="16" text-anchor="end" font-family="'Liberation Sans', sans-serif" font-weight="normal" fill="#000" >0.5</text>
<text x="390.6" y="11.7" font-size="16" text-anchor="end" font-family="'Liberation Sans', sans-serif" font-weight="normal" fill="#000" >1.0</text>
<text x="397.6" y="225.4" font-size="16" text-anchor="middle" font-family="'Liberation Sans', sans-serif" font-weight="normal" fill="#000" >0</text>
<text x="533.8" y="225.4" font-size="16" text-anchor="middle" font-family="'Liberation Sans', sans-serif" font-weight="normal" fill="#000" >50</text>
<text x="670" y="225.4" font-size="16" text-anchor="middle" font-family="'Liberation Sans', sans-serif" font-weight="normal" fill="#000" >100</text>
<text x="402.8" y="29.1" font-size="20.5" text-anchor="start" font-family="'Liberation Sans', sans-serif" font-weight="normal" fill="#000" >(b)</text>
<text x="519.6" y="252.7" font-size="29" fill="#000" font-family="'Liberation Serif', serif">&#916;</text>
<text x="0" y="0" transform="translate(538.6,252.7) scale(0.72,1)" font-size="33" font-weight="bold" fill="#000" font-family="'Liberation Sans', sans-serif">t</text>
<g transform="translate(368.6,93.7) rotate(-90)"><text x="0" y="0" transform="scale(1.17,1)" font-size="27" fill="#000" font-family="'Liberation Serif', serif">&#961;</text><text x="15.6" y="11.5" font-size="19.5" fill="#000" font-family="'Liberation Sans', sans-serif">I</text></g>
<rect x="244.1" y="9.6" width="88.7" height="32.5" fill="#fff" stroke="#b4b4b4" stroke-width="1"/>
<line x1="246" y1="18.7" x2="276" y2="18.7" stroke="#e00000" stroke-width="1.9"/>
<rect x="256.55" y="14.25" width="8.5" height="8.5" fill="#ff0000"/>
<line x1="246" y1="34.5" x2="276" y2="34.5" stroke="#000000" stroke-width="2.2"/>
<circle cx="260.5" cy="34.5" r="4.3" fill="#000000"/>
<text x="279" y="23.8" font-size="12.5" fill="#000"><tspan font-family="'Liberation Serif', serif">&#916;&#946;</tspan><tspan font-family="'Liberation Sans', sans-serif">=0.01</tspan></text>
<text x="279" y="39.3" font-size="12.5" fill="#000"><tspan font-family="'Liberation Serif', serif">&#916;&#946;</tspan><tspan font-family="'Liberation Sans', sans-serif">=0.001</tspan></text>
<rect x="399.9" y="175.4" width="58.4" height="31.8" fill="#fff" stroke="#b4b4b4" stroke-width="1"/>
<line x1="401.6" y1="183.6" x2="431.1" y2="183.6" stroke="#e00000" stroke-width="1.9"/>
<rect x="412.05" y="179.25" width="8.7" height="8.7" fill="#ff0000"/>
<line x1="401.6" y1="199.8" x2="431.1" y2="199.8" stroke="#000000" stroke-width="2.2"/>
<circle cx="416.4" cy="199.8" r="4.9" fill="#000000"/>
<text x="433.6" y="188.6" font-size="13" text-anchor="start" font-family="'Liberation Sans', sans-serif" font-weight="normal" fill="#000" >T=1</text>
<text x="433.6" y="204.6" font-size="13" text-anchor="start" font-family="'Liberation Sans', sans-serif" font-weight="normal" fill="#000" >T=5</text>
<clipPath id="cc"><rect x="63" y="256" width="272.4" height="203"/></clipPath>
<clipPath id="cd"><rect x="404.4" y="255.8" width="272.4" height="203"/></clipPath>
<line x1="59" y1="459" x2="63" y2="459" stroke="#3a3a3a" stroke-width="1.2"/>
<line x1="59" y1="377.8" x2="63" y2="377.8" stroke="#3a3a3a" stroke-width="1.2"/>
<line x1="59" y1="296.6" x2="63" y2="296.6" stroke="#3a3a3a" stroke-width="1.2"/>
<line x1="63" y1="459" x2="63" y2="463" stroke="#3a3a3a" stroke-width="1.2"/>
<line x1="153.8" y1="459" x2="153.8" y2="463" stroke="#3a3a3a" stroke-width="1.2"/>
<line x1="244.6" y1="459" x2="244.6" y2="463" stroke="#3a3a3a" stroke-width="1.2"/>
<line x1="335.4" y1="459" x2="335.4" y2="463" stroke="#3a3a3a" stroke-width="1.2"/>
<line x1="108.4" y1="459" x2="108.4" y2="461.5" stroke="#3a3a3a" stroke-width="1.2"/>
<line x1="199.2" y1="459" x2="199.2" y2="461.5" stroke="#3a3a3a" stroke-width="1.2"/>
<line x1="290" y1="459" x2="290" y2="461.5" stroke="#3a3a3a" stroke-width="1.2"/>
<line x1="400.4" y1="458.8" x2="404.4" y2="458.8" stroke="#3a3a3a" stroke-width="1.2"/>
<line x1="400.4" y1="391.13" x2="404.4" y2="391.13" stroke="#3a3a3a" stroke-width="1.2"/>
<line x1="400.4" y1="323.47" x2="404.4" y2="323.47" stroke="#3a3a3a" stroke-width="1.2"/>
<line x1="400.4" y1="255.8" x2="404.4" y2="255.8" stroke="#3a3a3a" stroke-width="1.2"/>
<line x1="401.9" y1="424.97" x2="404.4" y2="424.97" stroke="#3a3a3a" stroke-width="1.2"/>
<line x1="401.9" y1="357.3" x2="404.4" y2="357.3" stroke="#3a3a3a" stroke-width="1.2"/>
<line x1="401.9" y1="289.63" x2="404.4" y2="289.63" stroke="#3a3a3a" stroke-width="1.2"/>
<line x1="404.4" y1="458.8" x2="404.4" y2="462.8" stroke="#3a3a3a" stroke-width="1.2"/>
<line x1="495.2" y1="458.8" x2="495.2" y2="462.8" stroke="#3a3a3a" stroke-width="1.2"/>
<line x1="586" y1="458.8" x2="586" y2="462.8" stroke="#3a3a3a" stroke-width="1.2"/>
<line x1="676.8" y1="458.8" x2="676.8" y2="462.8" stroke="#3a3a3a" stroke-width="1.2"/>
<line x1="449.8" y1="458.8" x2="449.8" y2="461.3" stroke="#3a3a3a" stroke-width="1.2"/>
<line x1="540.6" y1="458.8" x2="540.6" y2="461.3" stroke="#3a3a3a" stroke-width="1.2"/>
<line x1="631.4" y1="458.8" x2="631.4" y2="461.3" stroke="#3a3a3a" stroke-width="1.2"/>
<g clip-path="url(#cc)">
<polyline points="63,370.57 93.27,386 123.53,395.83 153.8,403.38 184.07,409.31 214.33,413.53 244.6,417.43 274.87,421 305.13,423.92 335.4,426.93" fill="none" stroke="#ff0000" stroke-width="3.0" stroke-linejoin="round"/>
<rect x="58.5" y="366.07" width="9" height="9" fill="#ff0000"/>
<rect x="88.77" y="381.5" width="9" height="9" fill="#ff0000"/>
<rect x="119.03" y="391.33" width="9" height="9" fill="#ff0000"/>
<rect x="149.3" y="398.88" width="9" height="9" fill="#ff0000"/>
<rect x="179.57" y="404.81" width="9" height="9" fill="#ff0000"/>
<rect x="209.83" y="409.03" width="9" height="9" fill="#ff0000"/>
<rect x="240.1" y="412.93" width="9" height="9" fill="#ff0000"/>
<rect x="270.37" y="416.5" width="9" height="9" fill="#ff0000"/>
<rect x="300.63" y="419.42" width="9" height="9" fill="#ff0000"/>
<rect x="330.9" y="422.43" width="9" height="9" fill="#ff0000"/>
<polyline points="63,355.88 93.27,370 123.53,379.02 153.8,386 184.07,390.22 214.33,395.01 244.6,399.48 274.87,403.38 305.13,405.73 335.4,408.98" fill="none" stroke="#0000ff" stroke-width="3.0" stroke-linejoin="round"/>
<circle cx="63" cy="355.88" r="5.3" fill="#0000ff"/>
<circle cx="93.27" cy="370" r="5.3" fill="#0000ff"/>
<circle cx="123.53" cy="379.02" r="5.3" fill="#0000ff"/>
<circle cx="153.8" cy="386" r="5.3" fill="#0000ff"/>
<circle cx="184.07" cy="390.22" r="5.3" fill="#0000ff"/>
<circle cx="214.33" cy="395.01" r="5.3" fill="#0000ff"/>
<circle cx="244.6" cy="399.48" r="5.3" fill="#0000ff"/>
<circle cx="274.87" cy="403.38" r="5.3" fill="#0000ff"/>
<circle cx="305.13" cy="405.73" r="5.3" fill="#0000ff"/>
<circle cx="335.4" cy="408.98" r="5.3" fill="#0000ff"/>
<polyline points="63,346.78 93.27,359.37 123.53,368.62 153.8,374.8 184.07,379.99 214.33,384.62 244.6,388.76 274.87,391.6 305.13,395.01 335.4,397.21" fill="none" stroke="#000000" stroke-width="3.0" stroke-linejoin="round"/>
<path d="M63 341.83L68.5 351.73L57.5 351.73Z" fill="#000000"/>
<path d="M93.27 354.42L98.77 364.32L87.77 364.32Z" fill="#000000"/>
<path d="M123.53 363.67L129.03 373.57L118.03 373.57Z" fill="#000000"/>
<path d="M153.8 369.85L159.3 379.75L148.3 379.75Z" fill="#000000"/>
<path d="M184.07 375.04L189.57 384.94L178.57 384.94Z" fill="#000000"/>
<path d="M214.33 379.67L219.83 389.57L208.83 389.57Z" fill="#000000"/>
<path d="M244.6 383.81L250.1 393.71L239.1 393.71Z" fill="#000000"/>
<path d="M274.87 386.65L280.37 396.55L269.37 396.55Z" fill="#000000"/>
<path d="M305.13 390.06L310.63 399.96L299.63 399.96Z" fill="#000000"/>
<path d="M335.4 392.26L340.9 402.16L329.9 402.16Z" fill="#000000"/>
</g>
<g clip-path="url(#cd)">
<polyline points="404.4,444.73 434.67,430.79 464.93,423.82 495.2,416.71 525.47,411.43 555.73,407.71 586,404.6 616.27,402.1 646.53,400.47 676.8,398.04" fill="none" stroke="#ff0000" stroke-width="3.0" stroke-linejoin="round"/>
<rect x="399.9" y="440.23" width="9" height="9" fill="#ff0000"/>
<rect x="430.17" y="426.29" width="9" height="9" fill="#ff0000"/>
<rect x="460.43" y="419.32" width="9" height="9" fill="#ff0000"/>
<rect x="490.7" y="412.21" width="9" height="9" fill="#ff0000"/>
<rect x="520.97" y="406.93" width="9" height="9" fill="#ff0000"/>
<rect x="551.23" y="403.21" width="9" height="9" fill="#ff0000"/>
<rect x="581.5" y="400.1" width="9" height="9" fill="#ff0000"/>
<rect x="611.77" y="397.6" width="9" height="9" fill="#ff0000"/>
<rect x="642.03" y="395.97" width="9" height="9" fill="#ff0000"/>
<rect x="672.3" y="393.54" width="9" height="9" fill="#ff0000"/>
<polyline points="404.4,431.53 434.67,417.19 464.93,407.98 495.2,402.91 525.47,397.63 555.73,393.7 586,391.34 616.27,388.9 646.53,385.99 676.8,385.31" fill="none" stroke="#0000ff" stroke-width="3.0" stroke-linejoin="round"/>
<circle cx="404.4" cy="431.53" r="5.3" fill="#0000ff"/>
<circle cx="434.67" cy="417.19" r="5.3" fill="#0000ff"/>
<circle cx="464.93" cy="407.98" r="5.3" fill="#0000ff"/>
<circle cx="495.2" cy="402.91" r="5.3" fill="#0000ff"/>
<circle cx="525.47" cy="397.63" r="5.3" fill="#0000ff"/>
<circle cx="555.73" cy="393.7" r="5.3" fill="#0000ff"/>
<circle cx="586" cy="391.34" r="5.3" fill="#0000ff"/>
<circle cx="616.27" cy="388.9" r="5.3" fill="#0000ff"/>
<circle cx="646.53" cy="385.99" r="5.3" fill="#0000ff"/>
<circle cx="676.8" cy="385.31" r="5.3" fill="#0000ff"/>
<polyline points="404.4,416.1 434.67,401.28 464.93,393.03 495.2,388.22 525.47,383.08 555.73,379.7 586,377.33 616.27,374.89 646.53,374.01 676.8,371.98" fill="none" stroke="#000000" stroke-width="3.0" stroke-linejoin="round"/>
<path d="M404.4 411.15L409.9 421.05L398.9 421.05Z" fill="#000000"/>
<path d="M434.67 396.33L440.17 406.23L429.17 406.23Z" fill="#000000"/>
<path d="M464.93 388.08L470.43 397.98L459.43 397.98Z" fill="#000000"/>
<path d="M495.2 383.27L500.7 393.17L489.7 393.17Z" fill="#000000"/>
<path d="M525.47 378.13L530.97 388.03L519.97 388.03Z" fill="#000000"/>
<path d="M555.73 374.75L561.23 384.65L550.23 384.65Z" fill="#000000"/>
<path d="M586 372.38L591.5 382.28L580.5 382.28Z" fill="#000000"/>
<path d="M616.27 369.94L621.77 379.84L610.77 379.84Z" fill="#000000"/>
<path d="M646.53 369.06L652.03 378.96L641.03 378.96Z" fill="#000000"/>
<path d="M676.8 367.03L682.3 376.93L671.3 376.93Z" fill="#000000"/>
</g>
<rect x="63" y="256" width="272.4" height="203" fill="none" stroke="#3a3a3a" stroke-width="1.3"/>
<rect x="404.4" y="255.8" width="272.4" height="203" fill="none" stroke="#3a3a3a" stroke-width="1.3"/>
<text x="56" y="464.8" font-size="16" text-anchor="end" font-family="'Liberation Sans', sans-serif" font-weight="normal" fill="#000" >5</text>
<text x="56" y="383.6" font-size="16" text-anchor="end" font-family="'Liberation Sans', sans-serif" font-weight="normal" fill="#000" >15</text>
<text x="56" y="302.4" font-size="16" text-anchor="end" font-family="'Liberation Sans', sans-serif" font-weight="normal" fill="#000" >25</text>
<text x="63" y="477.8" font-size="16" text-anchor="middle" font-family="'Liberation Sans', sans-serif" font-weight="normal" fill="#000" >0.001</text>
<text x="153.8" y="477.8" font-size="16" text-anchor="middle" font-family="'Liberation Sans', sans-serif" font-weight="normal" fill="#000" >0.004</text>
<text x="244.6" y="477.8" font-size="16" text-anchor="middle" font-family="'Liberation Sans', sans-serif" font-weight="normal" fill="#000" >0.007</text>
<text x="335.4" y="477.8" font-size="16" text-anchor="middle" font-family="'Liberation Sans', sans-serif" font-weight="normal" fill="#000" >0.010</text>
<text x="397.4" y="464.6" font-size="16" text-anchor="end" font-family="'Liberation Sans', sans-serif" font-weight="normal" fill="#000" >5</text>
<text x="397.4" y="396.93" font-size="16" text-anchor="end" font-family="'Liberation Sans', sans-serif" font-weight="normal" fill="#000" >15</text>
<text x="397.4" y="329.27" font-size="16" text-anchor="end" font-family="'Liberation Sans', sans-serif" font-weight="normal" fill="#000" >25</text>
<text x="397.4" y="261.6" font-size="16" text-anchor="end" font-family="'Liberation Sans', sans-serif" font-weight="normal" fill="#000" >35</text>
<text x="404.4" y="477.6" font-size="16" text-anchor="middle" font-family="'Liberation Sans', sans-serif" font-weight="normal" fill="#000" >1</text>
<text x="495.2" y="477.6" font-size="16" text-anchor="middle" font-family="'Liberation Sans', sans-serif" font-weight="normal" fill="#000" >4</text>
<text x="586" y="477.6" font-size="16" text-anchor="middle" font-family="'Liberation Sans', sans-serif" font-weight="normal" fill="#000" >7</text>
<text x="676.8" y="477.6" font-size="16" text-anchor="middle" font-family="'Liberation Sans', sans-serif" font-weight="normal" fill="#000" >10</text>
<text x="67.6" y="278.9" font-size="20.5" text-anchor="start" font-family="'Liberation Sans', sans-serif" font-weight="normal" fill="#000" >(c)</text>
<text x="407.6" y="278.5" font-size="20.5" text-anchor="start" font-family="'Liberation Sans', sans-serif" font-weight="normal" fill="#000" >(d)</text>
<text x="198.3" y="493.5" font-size="29" text-anchor="middle" fill="#000" font-family="'Liberation Serif', serif">&#916;&#946;</text>
<text x="535.1" y="497.5" font-size="31" text-anchor="middle" fill="#000" font-family="'Liberation Sans', sans-serif" font-weight="bold">T</text>
<g transform="translate(18,359.5) rotate(-90)"><text x="0" y="0" font-size="24" font-weight="bold" fill="#000" font-family="'Liberation Sans', sans-serif">S</text><text x="15.6" y="12" font-size="18" fill="#000"><tspan font-family="'Liberation Serif', serif">&#916;</tspan><tspan font-family="'Liberation Sans', sans-serif">t</tspan></text></g>
<g transform="translate(364,359.5) rotate(-90)"><text x="0" y="0" font-size="24" font-weight="bold" fill="#000" font-family="'Liberation Sans', sans-serif">S</text><text x="15.6" y="12" font-size="18" fill="#000"><tspan font-family="'Liberation Serif', serif">&#916;</tspan><tspan font-family="'Liberation Sans', sans-serif">t</tspan></text></g>
<rect x="64.2" y="407.4" width="59.2" height="48.6" fill="#fff" stroke="#b4b4b4" stroke-width="1"/>
<line x1="64.8" y1="416.4" x2="96" y2="416.4" stroke="#ff0000" stroke-width="2.6"/>
<rect x="76.1" y="411.9" width="9" height="9" fill="#ff0000"/>
<text x="98.4" y="421" font-size="13" text-anchor="start" font-family="'Liberation Sans', sans-serif" font-weight="normal" fill="#000" >T=1</text>
<line x1="64.8" y1="432" x2="96" y2="432" stroke="#0000ff" stroke-width="2.6"/>
<circle cx="80.6" cy="432" r="4.8" fill="#0000ff"/>
<text x="98.4" y="436.6" font-size="13" text-anchor="start" font-family="'Liberation Sans', sans-serif" font-weight="normal" fill="#000" >T=2</text>
<line x1="64.8" y1="447.6" x2="96" y2="447.6" stroke="#000000" stroke-width="2.6"/>
<path d="M80.6 442.74L86 452.46L75.2 452.46Z" fill="#000000"/>
<text x="98.4" y="452.2" font-size="13" text-anchor="start" font-family="'Liberation Sans', sans-serif" font-weight="normal" fill="#000" >T=3</text>
<rect x="585.8" y="406.9" width="90.6" height="51.9" fill="#fff" stroke="#b4b4b4" stroke-width="1"/>
<line x1="586.9" y1="416.1" x2="617.6" y2="416.1" stroke="#000000" stroke-width="2.6"/>
<path d="M602.3 411.24L607.7 420.96L596.9 420.96Z" fill="#000000"/>
<text x="620.6" y="420.7" font-size="12.5" fill="#000"><tspan font-family="'Liberation Serif', serif">&#916;&#946;</tspan><tspan font-family="'Liberation Sans', sans-serif">=0.005</tspan></text>
<line x1="586.9" y1="432.4" x2="617.6" y2="432.4" stroke="#0000ff" stroke-width="2.6"/>
<circle cx="602.3" cy="432.4" r="4.7" fill="#0000ff"/>
<text x="620.6" y="437" font-size="12.5" fill="#000"><tspan font-family="'Liberation Serif', serif">&#916;&#946;</tspan><tspan font-family="'Liberation Sans', sans-serif">=0.01</tspan></text>
<line x1="586.9" y1="448.7" x2="617.6" y2="448.7" stroke="#ff0000" stroke-width="2.6"/>
<rect x="597.65" y="444.05" width="9.3" height="9.3" fill="#ff0000"/>
<text x="620.6" y="453.3" font-size="12.5" fill="#000"><tspan font-family="'Liberation Serif', serif">&#916;&#946;</tspan><tspan font-family="'Liberation Sans', sans-serif">=0.02</tspan></text>
<rect x="187.6" y="259.5" width="144" height="84.8" fill="#fff" stroke="none"/>
<clipPath id="cic"><rect x="187.6" y="259.5" width="144" height="84.8"/></clipPath>
<g clip-path="url(#cic)">
<line x1="187.6" y1="269" x2="331.6" y2="310.4" stroke="#000000" stroke-width="1.3"/>
<path d="M187.6 267.78L190.4 272.82L184.8 272.82Z" fill="#000000"/>
<path d="M231.1 276.4L233.9 281.44L228.3 281.44Z" fill="#000000"/>
<path d="M256.54 283.25L259.34 288.29L253.74 288.29Z" fill="#000000"/>
<path d="M274.6 288.1L277.4 293.14L271.8 293.14Z" fill="#000000"/>
<path d="M288.6 292.36L291.4 297.4L285.8 297.4Z" fill="#000000"/>
<path d="M300.04 296.32L302.84 301.36L297.24 301.36Z" fill="#000000"/>
<path d="M309.72 300L312.52 305.04L306.92 305.04Z" fill="#000000"/>
<path d="M318.1 302.61L320.9 307.65L315.3 307.65Z" fill="#000000"/>
<path d="M325.49 305.83L328.29 310.87L322.69 310.87Z" fill="#000000"/>
<path d="M332.1 307.95L334.9 312.99L329.3 312.99Z" fill="#000000"/>
<line x1="187.6" y1="274.5" x2="331.6" y2="321" stroke="#0000ff" stroke-width="1.3"/>
<circle cx="187.6" cy="276.46" r="2.5" fill="#0000ff"/>
<circle cx="231.1" cy="286.84" r="2.5" fill="#0000ff"/>
<circle cx="256.54" cy="294.07" r="2.5" fill="#0000ff"/>
<circle cx="274.6" cy="300.05" r="2.5" fill="#0000ff"/>
<circle cx="288.6" cy="303.85" r="2.5" fill="#0000ff"/>
<circle cx="300.04" cy="308.35" r="2.5" fill="#0000ff"/>
<circle cx="309.72" cy="312.73" r="2.5" fill="#0000ff"/>
<circle cx="318.1" cy="316.71" r="2.5" fill="#0000ff"/>
<circle cx="325.49" cy="319.19" r="2.5" fill="#0000ff"/>
<circle cx="332.1" cy="322.73" r="2.5" fill="#0000ff"/>
<line x1="187.6" y1="284.3" x2="331.6" y2="343.6" stroke="#ff0000" stroke-width="1.3"/>
<rect x="185.3" y="284.98" width="4.6" height="4.6" fill="#ff0000"/>
<rect x="228.8" y="297.75" width="4.6" height="4.6" fill="#ff0000"/>
<rect x="254.24" y="306.83" width="4.6" height="4.6" fill="#ff0000"/>
<rect x="272.3" y="314.41" width="4.6" height="4.6" fill="#ff0000"/>
<rect x="286.3" y="320.79" width="4.6" height="4.6" fill="#ff0000"/>
<rect x="297.74" y="325.59" width="4.6" height="4.6" fill="#ff0000"/>
<rect x="307.42" y="330.24" width="4.6" height="4.6" fill="#ff0000"/>
<rect x="315.8" y="334.7" width="4.6" height="4.6" fill="#ff0000"/>
<rect x="323.19" y="338.5" width="4.6" height="4.6" fill="#ff0000"/>
<rect x="329.8" y="342.57" width="4.6" height="4.6" fill="#ff0000"/>
</g>
<rect x="187.6" y="259.5" width="144" height="84.8" fill="none" stroke="#8a8a8a" stroke-width="1.1"/>
<rect x="527.8" y="258.8" width="143.4" height="85.7" fill="#fff" stroke="none"/>
<clipPath id="cid"><rect x="527.8" y="258.8" width="143.4" height="85.7"/></clipPath>
<g clip-path="url(#cid)">
<line x1="527.8" y1="296.4" x2="670.8" y2="261.3" stroke="#000000" stroke-width="1.3"/>
<path d="M527.8 295.13L530.6 300.17L525 300.17Z" fill="#000000"/>
<path d="M570.73 281.94L573.53 286.98L567.93 286.98Z" fill="#000000"/>
<path d="M595.84 275.49L598.64 280.53L593.04 280.53Z" fill="#000000"/>
<path d="M613.65 271.98L616.45 277.02L610.85 277.02Z" fill="#000000"/>
<path d="M627.47 268.4L630.27 273.44L624.67 273.44Z" fill="#000000"/>
<path d="M638.76 266.13L641.56 271.17L635.96 271.17Z" fill="#000000"/>
<path d="M648.31 264.59L651.11 269.63L645.51 269.63Z" fill="#000000"/>
<path d="M656.58 263.03L659.38 268.07L653.78 268.07Z" fill="#000000"/>
<path d="M663.87 262.47L666.67 267.51L661.07 267.51Z" fill="#000000"/>
<path d="M670.4 261.21L673.2 266.25L667.6 266.25Z" fill="#000000"/>
<line x1="527.8" y1="311.8" x2="670.8" y2="271" stroke="#0000ff" stroke-width="1.3"/>
<circle cx="527.8" cy="314.43" r="2.5" fill="#0000ff"/>
<circle cx="570.73" cy="298.71" r="2.5" fill="#0000ff"/>
<circle cx="595.84" cy="290.14" r="2.5" fill="#0000ff"/>
<circle cx="613.65" cy="285.8" r="2.5" fill="#0000ff"/>
<circle cx="627.47" cy="281.54" r="2.5" fill="#0000ff"/>
<circle cx="638.76" cy="278.52" r="2.5" fill="#0000ff"/>
<circle cx="648.31" cy="276.76" r="2.5" fill="#0000ff"/>
<circle cx="656.58" cy="274.99" r="2.5" fill="#0000ff"/>
<circle cx="663.87" cy="272.93" r="2.5" fill="#0000ff"/>
<circle cx="670.4" cy="272.45" r="2.5" fill="#0000ff"/>
<line x1="527.8" y1="328.9" x2="670.8" y2="279" stroke="#ff0000" stroke-width="1.3"/>
<rect x="525.5" y="330.26" width="4.6" height="4.6" fill="#ff0000"/>
<rect x="568.43" y="311.23" width="4.6" height="4.6" fill="#ff0000"/>
<rect x="593.54" y="303.27" width="4.6" height="4.6" fill="#ff0000"/>
<rect x="611.35" y="295.95" width="4.6" height="4.6" fill="#ff0000"/>
<rect x="625.17" y="290.94" width="4.6" height="4.6" fill="#ff0000"/>
<rect x="636.46" y="287.6" width="4.6" height="4.6" fill="#ff0000"/>
<rect x="646.01" y="284.92" width="4.6" height="4.6" fill="#ff0000"/>
<rect x="654.28" y="282.83" width="4.6" height="4.6" fill="#ff0000"/>
<rect x="661.57" y="281.5" width="4.6" height="4.6" fill="#ff0000"/>
<rect x="668.1" y="279.56" width="4.6" height="4.6" fill="#ff0000"/>
</g>
<rect x="527.8" y="258.8" width="143.4" height="85.7" fill="none" stroke="#8a8a8a" stroke-width="1.1"/>
<line x1="185.1" y1="315.45" x2="187.6" y2="315.45" stroke="#505050" stroke-width="1"/>
<text x="184.1" y="319.95" font-size="14.5" text-anchor="end" font-family="'Liberation Sans', sans-serif" font-weight="normal" fill="#000" >12</text>
<line x1="185.1" y1="286.59" x2="187.6" y2="286.59" stroke="#505050" stroke-width="1"/>
<text x="184.1" y="291.09" font-size="14.5" text-anchor="end" font-family="'Liberation Sans', sans-serif" font-weight="normal" fill="#000" >16</text>
<line x1="185.1" y1="264.2" x2="187.6" y2="264.2" stroke="#505050" stroke-width="1"/>
<text x="184.1" y="268.7" font-size="14.5" text-anchor="end" font-family="'Liberation Sans', sans-serif" font-weight="normal" fill="#000" >20</text>
<text x="197.8" y="360.8" font-size="14.5" text-anchor="middle" font-family="'Liberation Sans', sans-serif" font-weight="normal" fill="#000" >0.001</text>
<line x1="187.6" y1="344.3" x2="187.6" y2="346.8" stroke="#505050" stroke-width="1"/>
<text x="310.24" y="360.8" font-size="14.5" text-anchor="middle" font-family="'Liberation Sans', sans-serif" font-weight="normal" fill="#000" >0.006</text>
<line x1="300.04" y1="344.3" x2="300.04" y2="346.8" stroke="#505050" stroke-width="1"/>
<text x="258" y="376" font-size="29" text-anchor="middle" fill="#000" font-family="'Liberation Serif', serif">&#916;&#946;</text>
<g transform="translate(145.6,320.6) rotate(-90)"><text x="0" y="0" font-size="23" font-weight="bold" fill="#000" font-family="'Liberation Sans', sans-serif">S</text><text x="15" y="12.5" font-size="17" fill="#000"><tspan font-family="'Liberation Serif', serif">&#916;</tspan><tspan font-family="'Liberation Sans', sans-serif">t</tspan></text></g>
<g transform="translate(489.3,323.8) rotate(-90)"><text x="0" y="0" font-size="23" font-weight="bold" fill="#000" font-family="'Liberation Sans', sans-serif">S</text><text x="15" y="12.5" font-size="17" fill="#000"><tspan font-family="'Liberation Serif', serif">&#916;</tspan><tspan font-family="'Liberation Sans', sans-serif">t</tspan></text></g>
<line x1="525.3" y1="344.3" x2="527.8" y2="344.3" stroke="#505050" stroke-width="1"/>
<text x="524.3" y="348.8" font-size="14.5" text-anchor="end" font-family="'Liberation Sans', sans-serif" font-weight="normal" fill="#000" >6</text>
<line x1="525.3" y1="299.12" x2="527.8" y2="299.12" stroke="#505050" stroke-width="1"/>
<text x="524.3" y="303.62" font-size="14.5" text-anchor="end" font-family="'Liberation Sans', sans-serif" font-weight="normal" fill="#000" >11</text>
<line x1="525.3" y1="271.2" x2="527.8" y2="271.2" stroke="#505050" stroke-width="1"/>
<text x="524.3" y="275.7" font-size="14.5" text-anchor="end" font-family="'Liberation Sans', sans-serif" font-weight="normal" fill="#000" >16</text>
<text x="525.1" y="360.4" font-size="14.5" text-anchor="middle" font-family="'Liberation Sans', sans-serif" font-weight="normal" fill="#000" >1</text>
<line x1="527.8" y1="344.5" x2="527.8" y2="347" stroke="#505050" stroke-width="1"/>
<text x="610.95" y="360.4" font-size="14.5" text-anchor="middle" font-family="'Liberation Sans', sans-serif" font-weight="normal" fill="#000" >4</text>
<line x1="613.65" y1="344.5" x2="613.65" y2="347" stroke="#505050" stroke-width="1"/>
<text x="645.61" y="360.4" font-size="14.5" text-anchor="middle" font-family="'Liberation Sans', sans-serif" font-weight="normal" fill="#000" >7</text>
<line x1="648.31" y1="344.5" x2="648.31" y2="347" stroke="#505050" stroke-width="1"/>
<text x="667.7" y="360.4" font-size="14.5" text-anchor="middle" font-family="'Liberation Sans', sans-serif" font-weight="normal" fill="#000" >10</text>
<line x1="670.4" y1="344.5" x2="670.4" y2="347" stroke="#505050" stroke-width="1"/>
<text x="576.6" y="371.2" font-size="31" text-anchor="middle" fill="#000" font-family="'Liberation Sans', sans-serif" font-weight="bold">T</text>
</svg>
</body></html>
